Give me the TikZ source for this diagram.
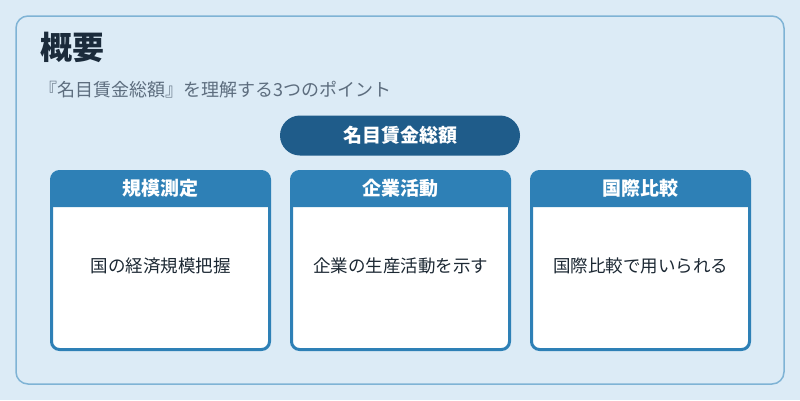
\documentclass[tikz,border=0pt]{standalone}
\usepackage{fontspec}
\setmainfont{Noto Sans CJK JP}
\usepackage{tikz}
\usetikzlibrary{positioning}

\definecolor{bgblue}{HTML}{DCEBF6}
\definecolor{frameblue}{HTML}{7FB3D5}
\definecolor{pillblue}{HTML}{1F5C8A}
\definecolor{headblue}{HTML}{2E80B6}
\definecolor{titleink}{HTML}{1B2B3B}
\definecolor{subink}{HTML}{5D6D7E}
\definecolor{bodyink}{HTML}{1C2833}

\begin{document}
\begin{tikzpicture}[x=1pt,y=-1pt
            ,card/.style={draw=headblue,line width=3pt,fill=white
                         ,rounded corners=8pt,outer sep=0pt,inner sep=0pt
                         ,minimum width=218pt,minimum height=178pt}
            ,cardhead/.style={text=white,inner sep=0pt
                             ,font=\bfseries\fontsize{19}{19}\selectfont}
            ,cardtext/.style={text=bodyink,inner sep=0pt
                             ,font=\fontsize{17.5}{17.5}\selectfont}]
  \fill[bgblue] (0,0) rectangle (800,400);
  \useasboundingbox (0,0) rectangle (800,400);
  \draw[frameblue,line width=1.5pt,rounded corners=12pt] (16,16) rectangle (784,384);

  \node[anchor=west,inner sep=0pt,text=titleink
       ,font=\bfseries\fontsize{32}{32}\selectfont] (title) at (40,47) {概要};
  \node[anchor=west,inner sep=0pt,text=subink
       ,font=\fontsize{18}{18}\selectfont] (sub) at (39,89.5)
       {『名目賃金総額』を理解する3つのポイント};

  \node[fill=pillblue,rounded corners=20pt,minimum width=240pt,minimum height=40pt
       ,text=white,font=\bfseries\fontsize{19}{19}\selectfont] (pill) at (400,135.5) {名目賃金総額};

  % three cards
  \node[card] (k1) at (160.5,260.5) {};
  \node[card,right=22pt of k1] (k2) {};
  \node[card,right=22pt of k2] (k3) {};
  \fill[headblue] ([yshift=-35.5pt]k1.north west) [rounded corners=8pt] -- (k1.north west)
    -- (k1.north east) [sharp corners] -- ([yshift=-35.5pt]k1.north east) -- cycle;
  \fill[headblue] ([yshift=-35.5pt]k2.north west) [rounded corners=8pt] -- (k2.north west)
    -- (k2.north east) [sharp corners] -- ([yshift=-35.5pt]k2.north east) -- cycle;
  \fill[headblue] ([yshift=-35.5pt]k3.north west) [rounded corners=8pt] -- (k3.north west)
    -- (k3.north east) [sharp corners] -- ([yshift=-35.5pt]k3.north east) -- cycle;

  \node[cardhead] (h1) at ([yshift=-17pt]k1.north) {規模測定};
  \node[cardhead] (h2) at ([yshift=-17pt]k2.north) {企業活動};
  \node[cardhead] (h3) at ([yshift=-17pt]k3.north) {国際比較};

  \node[cardtext] (t1) at ([yshift=-5.5pt]k1.center) {国の経済規模把握};
  \node[cardtext] (t2) at ([yshift=-5.5pt]k2.center) {企業の生産活動を示す};
  \node[cardtext] (t3) at ([yshift=-5.5pt]k3.center) {国際比較で用いられる};
\end{tikzpicture}
\end{document}
